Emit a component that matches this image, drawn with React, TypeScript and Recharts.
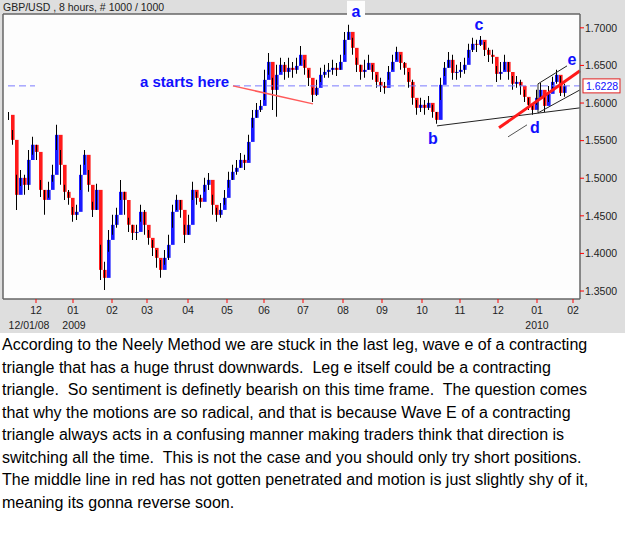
import React from 'react';
import {
    ComposedChart,
    Bar,
    Cell,
    XAxis,
    YAxis,
    CartesianGrid,
    ReferenceLine,
    ReferenceDot
} from 'recharts';

// 8h GBP/USD bars (one entry per ~4px of the original)
const closes = [
    1.5843, 1.551, 1.4779, 1.5005, 1.4912, 1.5244, 1.5444, 1.535, 1.4845, 1.4712,
    1.4845, 1.5045, 1.5577, 1.5178, 1.4819, 1.4739, 1.4513, 1.4553, 1.5045, 1.5311,
    1.4912, 1.4579, 1.4845, 1.3781, 1.3675, 1.418, 1.438, 1.4513, 1.4819, 1.4712,
    1.438, 1.4273, 1.4286, 1.4553, 1.438, 1.4207, 1.4074, 1.3941, 1.3781, 1.3941,
    1.4114, 1.4553, 1.4712, 1.4579, 1.4247, 1.438, 1.4845, 1.4739, 1.4686, 1.4912,
    1.4978, 1.4646, 1.4513, 1.4579, 1.4739, 1.4978, 1.5085, 1.5138, 1.5244, 1.5204,
    1.5483, 1.5803, 1.5909, 1.5962, 1.6308, 1.6547, 1.6175, 1.6375, 1.6508, 1.6414,
    1.6468, 1.6441, 1.6494, 1.6641, 1.6468, 1.6335, 1.6109, 1.6202, 1.6375, 1.6414,
    1.6441, 1.6468, 1.6441, 1.6547, 1.684, 1.6946, 1.6734, 1.6508, 1.6414, 1.6441,
    1.6534, 1.6414, 1.6281, 1.6228, 1.6202, 1.6414, 1.6547, 1.668, 1.6534, 1.6468,
    1.6281, 1.6069, 1.5936, 1.5976, 1.5936, 1.6002, 1.5882, 1.5776, 1.6242, 1.6468,
    1.6574, 1.6401, 1.6414, 1.6441, 1.6508, 1.6707, 1.6787, 1.6774, 1.684, 1.6707,
    1.6641, 1.6614, 1.6388, 1.6414, 1.6547, 1.6414, 1.6255, 1.6281, 1.6228, 1.6082,
    1.5976, 1.5909, 1.6069, 1.6175, 1.5962, 1.6122, 1.6281, 1.6375, 1.6135, 1.6228
];

const highs = [
    1.5882, 1.5643, 1.5045, 1.5111, 1.5045, 1.5377, 1.555, 1.5444, 1.4978, 1.4845,
    1.4952, 1.5178, 1.571, 1.5377, 1.4912, 1.4845, 1.4619, 1.4646, 1.5178, 1.5377,
    1.5111, 1.4686, 1.4925, 1.4114, 1.3888, 1.4313, 1.4513, 1.4606, 1.4978, 1.4819,
    1.4473, 1.438, 1.438, 1.4646, 1.4579, 1.4313, 1.418, 1.4047, 1.3914, 1.4047,
    1.4247, 1.4646, 1.4779, 1.4712, 1.438, 1.4513, 1.4952, 1.4819, 1.4779, 1.5005,
    1.5071, 1.4779, 1.4606, 1.4672, 1.4845, 1.5085, 1.5178, 1.5244, 1.5337, 1.5311,
    1.5577, 1.5909, 1.6002, 1.6042, 1.6441, 1.6667, 1.6335, 1.6508, 1.6601, 1.6547,
    1.6601, 1.6547, 1.6601, 1.676, 1.6574, 1.6441, 1.6202, 1.6308, 1.6468, 1.6508,
    1.6534, 1.6574, 1.6534, 1.6641, 1.6946, 1.704, 1.6867, 1.6601, 1.6508, 1.6574,
    1.6641, 1.6508, 1.6375, 1.6335, 1.6281, 1.6494, 1.6641, 1.6747, 1.6641, 1.6547,
    1.6414, 1.6308, 1.6042, 1.6069, 1.6042, 1.6095, 1.5976, 1.5882, 1.6335, 1.6547,
    1.668, 1.6641, 1.6508, 1.6547, 1.6601, 1.6787, 1.6867, 1.684, 1.6893, 1.6813,
    1.6734, 1.6707, 1.6494, 1.6547, 1.6641, 1.6547, 1.6361, 1.6361, 1.6308, 1.6175,
    1.6069, 1.5989, 1.6175, 1.6268, 1.6095, 1.6228, 1.6348, 1.6441, 1.6361, 1.6255
];

const lows = [
    1.5776, 1.5444, 1.4579, 1.4898, 1.4779, 1.4845, 1.5311, 1.5244, 1.4752, 1.4513,
    1.4739, 1.4952, 1.5377, 1.4912, 1.4712, 1.4646, 1.442, 1.4446, 1.4845, 1.5178,
    1.4819, 1.4486, 1.4579, 1.3648, 1.3515, 1.4021, 1.4247, 1.434, 1.4712, 1.4513,
    1.4286, 1.418, 1.418, 1.442, 1.4247, 1.4114, 1.3967, 1.3808, 1.3675, 1.3848,
    1.3914, 1.434, 1.4579, 1.4473, 1.414, 1.4247, 1.4712, 1.4646, 1.4606, 1.4819,
    1.4845, 1.4513, 1.442, 1.4473, 1.4646, 1.4872, 1.4978, 1.5045, 1.5138, 1.5111,
    1.5244, 1.567, 1.5803, 1.5882, 1.6042, 1.6375, 1.5909, 1.5816, 1.6414, 1.6308,
    1.6335, 1.6335, 1.6388, 1.6508, 1.6375, 1.6228, 1.6015, 1.6095, 1.6281, 1.6335,
    1.6335, 1.6375, 1.6361, 1.6441, 1.6641, 1.684, 1.6641, 1.6414, 1.6308, 1.6335,
    1.6441, 1.6308, 1.6202, 1.6148, 1.6122, 1.6308, 1.6441, 1.6574, 1.6441, 1.6375,
    1.6202, 1.5976, 1.5843, 1.5882, 1.5843, 1.5909, 1.5803, 1.5723, 1.6042, 1.6361,
    1.6468, 1.6308, 1.6308, 1.6335, 1.6388, 1.6601, 1.668, 1.668, 1.676, 1.6627,
    1.6547, 1.6521, 1.6281, 1.6308, 1.6441, 1.6308, 1.6175, 1.6202, 1.6109, 1.6015,
    1.5909, 1.5843, 1.5976, 1.6069, 1.5882, 1.6015, 1.6175, 1.6255, 1.6095, 1.6082
];

const monthTicks = [6.75, 16, 25.75, 34.5, 44.75, 54.5, 63.75, 73.5, 83.5, 93.25, 103.25, 112.75, 122.25, 132, 141];
const monthLabels = ['12', '01', '02', '03', '04', '05', '06', '07', '08', '09', '10', '11', '12', '01', '02'];
const yearLabels = ['12/01/08', '2009', '', '', '', '', '', '', '', '', '', '', '', '2010', ''];
const yearShift = [-7, 1, 0, 0, 0, 0, 0, 0, 0, 0, 0, 0, 0, 0, 0];

const priceTicks = [1.35, 1.4, 1.45, 1.5, 1.55, 1.6, 1.65, 1.7];
const lastPrice = 1.6228;
const xMin = -1.5;
const xMax = 142.75;
const yMin = 1.3394;
const yMax = 1.7184;

// wave letters placed by the analyst
const waveLabels = [
    { x: 86.75, y: 1.7146, text: 'a', box: true },
    { x: 106, y: 1.5457, text: 'b', box: false },
    { x: 117.5, y: 1.6973, text: 'c', box: false },
    { x: 131.5, y: 1.5603, text: 'd', box: false },
    { x: 140.75, y: 1.6508, text: 'e', box: false }
];

// hand drawn lines: [x1, y1, x2, y2]
const trendLines = [
    { p: [56, 1.6228, 76, 1.5989], color: '#ff5a5a', width: 1.5 },
    { p: [107, 1.5696, 142.75, 1.5936], color: '#222', width: 1 },
    { p: [124.75, 1.555, 129.5, 1.571], color: '#555', width: 1 },
    { p: [132.25, 1.6255, 139.5, 1.6494], color: '#222', width: 1 },
    { p: [132.25, 1.6255, 132.25, 1.5869], color: '#222', width: 1 },
    { p: [132.25, 1.5869, 142.75, 1.6175], color: '#222', width: 1 },
    { p: [122.5, 1.567, 142.75, 1.6428], color: '#ff1a1a', width: 3 }
];

const dashedSegments = [
    [-0.25, 6.5],
    [56, 142.75]
];

const paragraph = [
    'According to the Neely Method we are stuck in the last leg, wave e of a contracting',
    'triangle that has a huge thrust downwards.  Leg e itself could be a contracting',
    'triangle.  So sentiment is definetly bearish on this time frame.  The question comes',
    'that why the motions are so radical, and that is because Wave E of a contracting',
    'triangle always acts in a confusing manner making traders think that direction is',
    'switching all the time.  This is not the case and you should only try short positions.',
    'The middle line in red has not gotten penetrated and motion is just slightly shy of it,',
    'meaning its gonna reverse soon.'
];

const bars = closes.map((c, i) => {
    const open = i > 0 ? closes[i - 1] : c;
    return {
        i,
        wick: [lows[i], highs[i]],
        body: [Math.min(open, c), Math.max(open, c)],
        up: c >= open
    };
});

const font = "Arial, 'Liberation Sans', sans-serif";

const MonthTick = (props: any) => {
    const { x, y, payload } = props;
    const k = monthTicks.indexOf(payload.value);
    return (
        <g>
            <text x={x} y={y + 9} textAnchor="middle" fill="#222" fontSize={10.5} fontFamily={font}>
                {monthLabels[k]}
            </text>
            {yearLabels[k] ? (
                <text x={x + yearShift[k]} y={y + 24} textAnchor="middle" fill="#222" fontSize={10.5} fontFamily={font}>
                    {yearLabels[k]}
                </text>
            ) : null}
        </g>
    );
};

const WaveLetter = (text: string, box: boolean) => (props: any) => {
    const { cx, cy } = props;
    return (
        <g>
            {box ? <rect x={cx - 9} y={cy - 16} width={18} height={17} fill="#fdfdfd" /> : null}
            <text x={cx} y={cy} textAnchor="middle" fill="#1010ff" fontSize={16} fontWeight="bold" fontFamily={font}>
                {text}
            </text>
        </g>
    );
};

const StartNote = (props: any) => (
    <text x={props.cx} y={props.cy} fill="#1010ff" fontSize={15} fontWeight="bold" fontFamily={font}>
        a starts here
    </text>
);

const PriceTag = (props: any) => {
    const { cx, cy } = props;
    return (
        <g>
            <rect x={cx + 3} y={cy - 7} width={37} height={14} fill="#fff" stroke="#e02020" />
            <text x={cx + 6} y={cy + 4} fill="#1010ff" fontSize={10.5} fontFamily={font}>
                {lastPrice.toFixed(4)}
            </text>
        </g>
    );
};

export default function App() {
    return (
        <div style={{ position: 'absolute', left: 0, top: 0, width: 625, height: 542, background: '#fff' }}>
            <div style={{ position: 'absolute', left: 0, top: 0, width: 625, height: 333, background: '#dedede' }}>
                <div style={{ position: 'absolute', left: 3, top: 1, fontSize: 10.5, fontFamily: font, color: '#222', whiteSpace: 'pre' }}>
                    GBP/USD , 8 hours, # 1000 / 1000
                </div>
                <ComposedChart
                    width={625}
                    height={333}
                    data={bars}
                    margin={{ top: 14, right: 0, bottom: 0, left: 3 }}
                >
                    <CartesianGrid horizontal={false} vertical={false} fill="#fdfdfd" />
                    <XAxis
                        xAxisId={0}
                        dataKey="i"
                        type="number"
                        domain={[xMin, xMax]}
                        allowDataOverflow
                        ticks={monthTicks}
                        interval={0}
                        height={34}
                        tickSize={4}
                        tickLine={{ stroke: '#f00' }}
                        axisLine={{ stroke: '#666', strokeWidth: 1.5 }}
                        tick={<MonthTick />}
                    />
                    <XAxis xAxisId={1} dataKey="i" type="number" domain={[xMin, xMax]} allowDataOverflow hide />
                    <YAxis
                        orientation="right"
                        domain={[yMin, yMax]}
                        allowDataOverflow
                        ticks={priceTicks}
                        interval={0}
                        width={45}
                        tickSize={4}
                        tickMargin={1}
                        tickFormatter={(v: number) => v.toFixed(4)}
                        tick={{ fill: '#222', fontSize: 10.5, fontFamily: font }}
                        tickLine={{ stroke: '#f00' }}
                        axisLine={{ stroke: '#666', strokeWidth: 1.5 }}
                    />
                    <ReferenceLine x={xMin} stroke="#666" strokeWidth={1.5} />
                    <ReferenceLine y={yMax} stroke="#666" strokeWidth={1.5} />
                    {dashedSegments.map((s, k) => (
                        <ReferenceLine
                            key={`dash-${k}`}
                            segment={[{ x: s[0], y: lastPrice }, { x: s[1], y: lastPrice }]}
                            stroke="#7a7aff"
                            strokeDasharray="7 4"
                            ifOverflow="visible"
                        />
                    ))}
                    <Bar xAxisId={1} dataKey="body" barSize={4} isAnimationActive={false}>
                        {bars.map((b, k) => (
                            <Cell key={`body-${k}`} fill={b.up ? '#1a1aff' : '#ff1a1a'} />
                        ))}
                    </Bar>
                    <Bar xAxisId={0} dataKey="wick" barSize={1} fill="#000" isAnimationActive={false} />
                    {trendLines.map((t, k) => (
                        <ReferenceLine
                            key={`tl-${k}`}
                            segment={[{ x: t.p[0], y: t.p[1] }, { x: t.p[2], y: t.p[3] }]}
                            stroke={t.color}
                            strokeWidth={t.width}
                            ifOverflow="visible"
                        />
                    ))}
                    {waveLabels.map((w, k) => (
                        <ReferenceDot
                            key={`wl-${k}`}
                            x={w.x}
                            y={w.y}
                            r={1}
                            ifOverflow="visible"
                            shape={WaveLetter(w.text, w.box)}
                        />
                    ))}
                    <ReferenceDot x={32.75} y={1.6215} r={1} ifOverflow="visible" shape={StartNote} />
                    <ReferenceDot x={xMax} y={lastPrice} r={1} ifOverflow="visible" shape={PriceTag} />
                </ComposedChart>
            </div>
            <div style={{ position: 'absolute', left: 2, top: 334, fontFamily: font, fontSize: 16, color: '#000' }}>
                {paragraph.map((line, k) => (
                    <div key={k} style={{ whiteSpace: 'pre', lineHeight: '22.5px', height: 22.5 }}>
                        {line}
                    </div>
                ))}
            </div>
        </div>
    );
}
